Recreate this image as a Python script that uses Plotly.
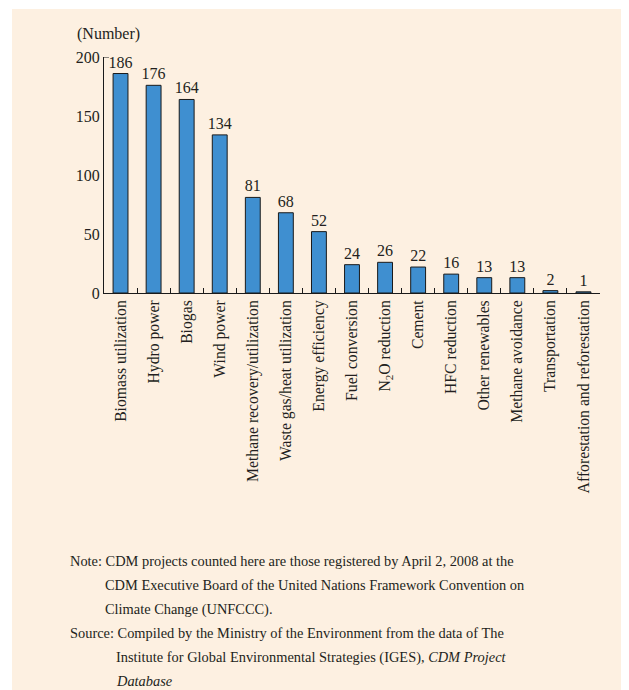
import plotly.graph_objects as go

categories = ["Biomass utilization", "Hydro power", "Biogas", "Wind power",
              "Methane recovery/utilization", "Waste gas/heat utilization",
              "Energy efficiency", "Fuel conversion", "N<sub>2</sub>O reduction",
              "Cement", "HFC reduction", "Other renewables", "Methane avoidance",
              "Transportation", "Afforestation and reforestation"]
values = [186, 176, 164, 134, 81, 68, 52, 24, 26, 22, 16, 13, 13, 2, 1]
y_ticks = [0, 50, 100, 150, 200]

OFF = 8  # page body margin
W, H = 629 - OFF, 690 - OFF
# plot area in window pixels: x 104..600, y 57..293
L, T = 104 - OFF, 57 - OFF
R = W - (600 - OFF)
B = H - (293 - OFF)
PW, PH = W - L - R, H - T - B

def px(x):
    return (x - OFF - L) / PW

def py(y):
    return (H - B - (y - OFF)) / PH

FONT = "Liberation Serif, Times New Roman, serif"
TXT = "#231f20"
CREAM = "#fdf0e1"

fig = go.Figure()
fig.add_trace(go.Bar(
    x=categories, y=values,
    marker=dict(color="#3f8fd0", line=dict(color="#1a1a1a", width=1)),
    text=[str(v) for v in values], textposition="outside",
    textfont=dict(family=FONT, size=16, color=TXT),
    cliponaxis=False,
))

shapes = [
    dict(type="rect", xref="paper", yref="paper", x0=px(12), x1=px(640), y0=py(9), y1=py(700),
         fillcolor=CREAM, line=dict(width=0), layer="below"),
    dict(type="line", xref="paper", yref="y", x0=0, x1=5 / PW, y0=200, y1=200,
         line=dict(color="#1a1a1a", width=1)),
]

notes = [
    (68, 561, "Note: CDM projects counted here are those registered by April 2, 2008 at the"),
    (103, 585, "CDM Executive Board of the United Nations Framework Convention on"),
    (103, 609, "Climate Change (UNFCCC)."),
    (68, 633, "Source: Compiled by the Ministry of the Environment from the data of The"),
    (114, 657, "Institute for Global Environmental Strategies (IGES), <i>CDM Project</i>"),
    (114, 681, "<i>Database</i>"),
]
annotations = [dict(xref="paper", yref="paper", x=px(x), y=py(y), text=t, showarrow=False,
                    xanchor="left", yanchor="middle",
                    font=dict(family=FONT, size=14.4, color=TXT))
               for x, y, t in notes]
annotations.append(dict(xref="paper", yref="paper", x=px(75), y=py(34), text="(Number)",
                        showarrow=False, xanchor="left", yanchor="middle",
                        font=dict(family=FONT, size=16, color=TXT)))

fig.update_layout(
    width=W, height=H, margin=dict(l=L, r=R, t=T, b=B, pad=0),
    paper_bgcolor="white", plot_bgcolor="rgba(0,0,0,0)",
    showlegend=False, bargap=0.55,
    uniformtext=dict(minsize=16, mode="show"),
    font=dict(family=FONT, color=TXT),
    shapes=shapes, annotations=annotations,
    xaxis=dict(showline=True, linecolor="#1a1a1a", linewidth=1, ticks="inside",
               tickson="boundaries", ticklen=5, tickcolor="#1a1a1a", tickangle=-90,
               tickfont=dict(family=FONT, size=15.7, color=TXT), showgrid=False),
    yaxis=dict(range=[0, 200], tickvals=y_ticks, showline=True, linecolor="#1a1a1a",
               linewidth=1, ticks="", showgrid=False, zeroline=False,
               tickfont=dict(family=FONT, size=16, color=TXT)),
)

fig.write_html("out.html")
